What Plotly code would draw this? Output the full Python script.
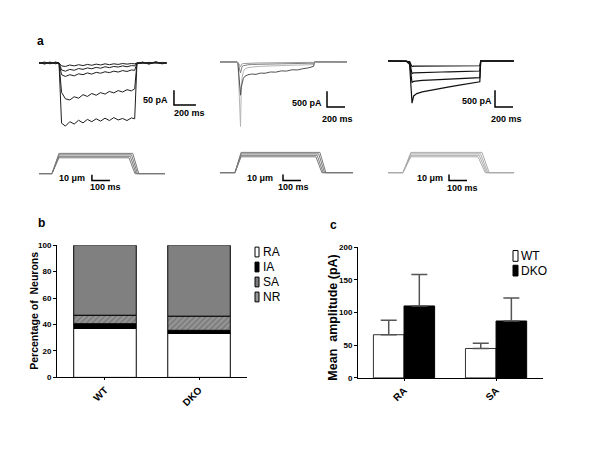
import plotly.graph_objects as go
import numpy as np

# ---------------- data ----------------
# panel b : percentage of neurons (stacked)
groups_b = ["WT", "DKO"]
ra_pct = [37.0, 33.2]
ia_pct = [3.6, 2.4]
sa_pct = [6.4, 10.7]
nr_pct = [53.0, 53.7]

# panel c : mean amplitude (pA)
types_c = ["RA", "SA"]
wt_amp = [66, 45]
dko_amp = [110, 87]
wt_err = [22, 8]
dko_err = [48, 35]

# panel a1 : RA-like currents (pA) vs time (ms)
a1_t = [0, 50, 100, 150, 182, 205, 240, 280, 320, 360, 400, 440, 480, 520, 560,
        600, 640, 680, 720, 760, 800, 840, 870, 890, 940, 1000, 1060, 1120, 1160]
a1_i = [
    [0, -2, 1, -1, 0, -10, -12, -7, -10, -6, -9, -5, -8, -4, -7, -3, -6, -3, -5, -2, -4, -2, -3, 0, 1, -1, 2, -2, 0],
    [-1, 2, -2, 3, 0, -24, -28, -22, -25, -19, -22, -17, -20, -15, -18, -13, -16, -12, -14, -10, -13, -9, -10, 0, -2, 2, -1, 2, -1],
    [1, -2, 2, -2, 0, -40, -46, -40, -44, -37, -40, -34, -38, -32, -35, -30, -33, -28, -31, -26, -29, -24, -25, -1, 2, -2, 1, -3, 0],
    [-2, 3, -3, 2, 0, -100, -122, -126, -115, -120, -108, -114, -104, -110, -101, -106, -97, -102, -94, -99, -91, -95, -88, -2, 2, -4, 3, -1, 0],
    [2, -4, 3, -3, 0, -205, -215, -200, -208, -195, -204, -192, -200, -190, -198, -188, -196, -186, -194, -189, -196, -187, -190, -4, 3, -3, 4, -2, 1],
]

# panel a2 : transient currents
a2_t = [0, 100, 190, 200, 228, 236, 245, 260, 280, 310, 350, 400, 450, 500, 560,
        620, 680, 740, 800, 860, 920, 980, 1040, 1050, 1150, 1300, 1410]
a2_i = [
    [0, 0, 0, -50, -2060, -900, -500, -300, -220, -180, -160, -150, -140, -130, -125, -120, -115, -110, -105, -100, -95, -90, -85, 0, 0, 0, 0],
    [0, 0, 0, -60, -1060, -800, -640, -520, -450, -410, -385, -395, -355, -360, -320, -325, -285, -290, -250, -255, -215, -190, -140, 0, 0, 0, 0],
    [0, 0, 0, -20, -350, -200, -150, -120, -100, -90, -80, -75, -70, -65, -60, -58, -55, -52, -50, -48, -45, -42, -40, 0, 0, 0, 0],
    [0, 0, 0, -10, -150, -80, -60, -50, -45, -40, -38, -35, -32, -30, -28, -27, -26, -25, -24, -23, -22, -21, -20, 0, 0, 0, 0],
]
a2_colors = ["#b4b4b4", "#505050", "#808080", "#9a9a9a"]

# panel a3 : intermediate currents
a3_t = [0, 100, 200, 240, 267, 285, 320, 380, 450, 520, 600, 680, 760, 840, 920,
        1000, 1020, 1030, 1150, 1300, 1400]
a3_i = [
    [0, 0, 0, -15, -170, -155, -152, -150, -150, -148, -148, -146, -146, -145, -145, -144, -144, 0, 0, 0, 0],
    [0, 0, 0, -30, -380, -355, -350, -345, -340, -335, -330, -325, -320, -315, -310, -305, -300, 0, 0, 0, 0],
    [0, 0, 0, -50, -650, -610, -595, -585, -575, -565, -555, -545, -535, -525, -515, -505, -500, 0, 0, 0, 0],
    [0, 0, 0, -100, -1265, -1050, -980, -930, -900, -860, -825, -780, -740, -700, -665, -630, -625, 0, 0, 0, 0],
]

# mechanical stimuli (displacement in um, time in ms)
stim_amp = [27, 29.5, 32, 34.5]
a1_stim = dict(on=72, rise=39, off=[500, 507, 514, 521], fall=33, end=700)
a2_stim = dict(on=83, rise=34, off=[533, 540, 548, 555], fall=33, end=739)
a3_stim = dict(on=83, rise=44, off=[500, 507, 514, 522], fall=40, end=700)

legend_b = ["RA", "IA", "SA", "NR"]
legend_c = ["WT", "DKO"]

# ---------------- helpers (layout geometry, page pixels) ----------------
OFF = 8            # default page margin of the html body
W, H = 600 - OFF, 450 - OFF

def xdom(p0, p1):
    return [(p0 - OFF) / W, (p1 - OFF) / W]

def ydom(top, bot):
    return [1 - (bot - OFF) / H, 1 - (top - OFF) / H]

def xrng(p0, p1, origin, ppu):
    return [(p0 - origin) / ppu, (p1 - origin) / ppu]

def yrng(top, bot, origin, ppu):
    return [(origin - bot) / ppu, (origin - top) / ppu]

def P(x, y):
    return (x - OFF) / W, 1 - (y - OFF) / H

fig = go.Figure()
FONT = "Liberation Sans, Arial, sans-serif"

# ---------------- panel a traces ----------------
for tr in a1_i:
    fig.add_trace(go.Scatter(x=a1_t, y=tr, mode="lines", line=dict(color="#1e1e1e", width=1),
                             xaxis="x", yaxis="y", showlegend=False, hoverinfo="skip"))
for tr, col in zip(a2_i, a2_colors):
    fig.add_trace(go.Scatter(x=a2_t, y=tr, mode="lines", line=dict(color=col, width=1),
                             xaxis="x2", yaxis="y2", showlegend=False, hoverinfo="skip"))
for tr in a3_i:
    fig.add_trace(go.Scatter(x=a3_t, y=tr, mode="lines", line=dict(color="#111111", width=1.2),
                             xaxis="x3", yaxis="y3", showlegend=False, hoverinfo="skip"))

def stim_traces(st, xa, ya, color):
    for amp, off in zip(stim_amp, st["off"]):
        xs = [0, st["on"], st["on"] + st["rise"], off, off + st["fall"], st["end"]]
        ys = [0, 0, amp, amp, 0, 0]
        fig.add_trace(go.Scatter(x=xs, y=ys, mode="lines", line=dict(color=color, width=1),
                                 xaxis=xa, yaxis=ya, showlegend=False, hoverinfo="skip"))

stim_traces(a1_stim, "x4", "y4", "#7a7a7a")
stim_traces(a2_stim, "x5", "y5", "#7a7a7a")
stim_traces(a3_stim, "x6", "y6", "#ababab")

# ---------------- panel b ----------------
base = np.cumsum([[0, 0], ra_pct, ia_pct, sa_pct], axis=0)
b_colors = ["white", "black", "#8c8c8c", "#808080"]
b_patterns = [None, None,
              dict(shape="/", fgcolor="#555555", bgcolor="#959595", size=4, solidity=0.35), None]
for k, (name, vals) in enumerate(zip(legend_b, [ra_pct, ia_pct, sa_pct, nr_pct])):
    marker = dict(color=b_colors[k], line=dict(color="black", width=1))
    if b_patterns[k]:
        marker["pattern"] = b_patterns[k]
    fig.add_trace(go.Bar(x=groups_b, y=vals, base=list(base[k]), name=name, marker=marker,
                         offsetgroup="b", xaxis="x7", yaxis="y7", showlegend=False, hoverinfo="skip"))

# ---------------- panel c ----------------
fig.add_trace(go.Bar(x=types_c, y=wt_amp, name="WT", offsetgroup="wt",
                     marker=dict(color="white", line=dict(color="#333333", width=1)),
                     error_y=dict(type="data", array=wt_err, arrayminus=[0, 0], symmetric=False,
                                  color="#555555", thickness=1.5, width=8),
                     xaxis="x8", yaxis="y8", showlegend=False, hoverinfo="skip"))
fig.add_trace(go.Bar(x=types_c, y=dko_amp, name="DKO", offsetgroup="dko",
                     marker=dict(color="black", line=dict(color="black", width=1)),
                     error_y=dict(type="data", array=dko_err, arrayminus=[0, 0], symmetric=False,
                                  color="#555555", thickness=1.5, width=8),
                     xaxis="x8", yaxis="y8", showlegend=False, hoverinfo="skip"))

# ---------------- axes ----------------
hid = dict(visible=False, showgrid=False, zeroline=False, fixedrange=True)
lay = dict(
    xaxis=dict(hid, domain=xdom(36, 205), range=xrng(36, 205, 39, 0.11), anchor="y"),
    yaxis=dict(hid, domain=ydom(50, 132), range=yrng(50, 132, 60, 0.3), anchor="x"),
    xaxis2=dict(hid, domain=xdom(215, 360), range=xrng(215, 360, 220, 0.09), anchor="y2"),
    yaxis2=dict(hid, domain=ydom(50, 132), range=yrng(50, 132, 59, 0.032), anchor="x2"),
    xaxis3=dict(hid, domain=xdom(383, 530), range=xrng(383, 530, 388, 0.09), anchor="y3"),
    yaxis3=dict(hid, domain=ydom(50, 132), range=yrng(50, 132, 58, 0.034), anchor="x3"),
    xaxis4=dict(hid, domain=xdom(35, 180), range=xrng(35, 180, 39, 0.18), anchor="y4"),
    yaxis4=dict(hid, domain=ydom(140, 185), range=yrng(140, 185, 173, 0.6), anchor="x4"),
    xaxis5=dict(hid, domain=xdom(215, 360), range=xrng(215, 360, 220, 0.18), anchor="y5"),
    yaxis5=dict(hid, domain=ydom(140, 185), range=yrng(140, 185, 172, 0.6), anchor="x5"),
    xaxis6=dict(hid, domain=xdom(383, 530), range=xrng(383, 530, 388, 0.18), anchor="y6"),
    yaxis6=dict(hid, domain=ydom(140, 185), range=yrng(140, 185, 172, 0.6), anchor="x6"),
)
tickf = dict(family=FONT, size=8, color="black", weight="bold")
xtickf = dict(family=FONT, size=10, color="black", weight="bold")
lay["xaxis7"] = dict(domain=xdom(57, 247), range=[-0.51, 1.51], anchor="y7", showline=True,
                     linecolor="black", linewidth=1, ticks="outside", ticklen=2, tickcolor="black",
                     tickangle=-45, tickfont=xtickf, showgrid=False, zeroline=False, fixedrange=True)
lay["yaxis7"] = dict(domain=ydom(246, 381), range=[0, 100], dtick=20, anchor="x7", showline=True,
                     linecolor="black", linewidth=1, ticks="outside", ticklen=3, tickcolor="black",
                     tickfont=tickf, showgrid=False, zeroline=False, fixedrange=True)
lay["xaxis8"] = dict(domain=xdom(358, 543), range=[-0.5, 1.51], anchor="y8", showline=True,
                     linecolor="black", linewidth=1, ticks="outside", ticklen=2, tickcolor="black",
                     tickangle=-45, tickfont=xtickf, showgrid=False, zeroline=False, fixedrange=True)
lay["yaxis8"] = dict(domain=ydom(248, 381.5), range=[0, 200], dtick=50, anchor="x8", showline=True,
                     linecolor="black", linewidth=1, ticks="outside", ticklen=3, tickcolor="black",
                     tickfont=tickf, showgrid=False, zeroline=False, fixedrange=True)

# ---------------- scale bars (data units) ----------------
scalebars = [  # xaxis, yaxis, t0, y0, dt, dy
    ("x", "y", 1227, -143, 200, 50),
    ("x2", "y2", 1189, -1437, 200, 500),
    ("x3", "y3", 1189, -1382, 200, 500),
    ("x4", "y4", 294, -11.7, 100, 10),
    ("x5", "y5", 350, -13.3, 100, 10),
    ("x6", "y6", 339, -13.3, 100, 10),
]
shapes = []
for xa, ya, t0, y0, dt, dy in scalebars:
    shapes.append(dict(type="path", xref=xa, yref=ya,
                       path=f"M {t0},{y0 + dy} L {t0},{y0} L {t0 + dt},{y0}",
                       line=dict(color="black", width=1.5)))

# ---------------- text ----------------
ann = []
def txt(s, x, y, size=9, bold=True, angle=0, xanchor="center"):
    px, py = P(x, y)
    ann.append(dict(text=f"<b>{s}</b>" if bold else s, x=px, y=py, xref="paper", yref="paper",
                    showarrow=False, xanchor=xanchor, yanchor="middle", textangle=angle,
                    font=dict(family=FONT, size=size, color="black")))

def legend_box(x0, x1, y0, y1, color):
    a, b = P(x0, y1)
    c, d = P(x1, y0)
    shapes.append(dict(type="rect", xref="paper", yref="paper", x0=a, x1=c, y0=b, y1=d,
                       fillcolor=color, line=dict(color="black", width=1)))

txt("a", 40, 38, size=12)
txt("b", 41, 223, size=12)
txt("c", 333, 225, size=12)
txt("50 pA", 155.5, 98)
txt("200 ms", 189, 111.5)
txt("10 μm", 71.5, 177)
txt("100 ms", 105, 187)
txt("500 pA", 307, 100.5)
txt("200 ms", 337, 117)
txt("10 μm", 260, 177)
txt("100 ms", 293, 187)
txt("500 pA", 477, 99)
txt("200 ms", 506, 117)
txt("10 μm", 430, 177)
txt("100 ms", 462, 188)
txt("Percentage of  Neurons", 34, 313, size=10.5, angle=-90)
txt("Mean  amplitude (pA)", 333, 320, size=12.5, angle=-90)

# legends
leg_b_fill = ["white", "black", "#7d7d7d", "#969696"]
for k, name in enumerate(legend_b):
    yc = 253 + 15.3 * k
    legend_box(255, 259, yc - 5, yc + 5, leg_b_fill[k])
    txt(name, 261, yc, size=12, bold=False, xanchor="left")
leg_c_fill = ["white", "black"]
for k, name in enumerate(legend_c):
    yc = 257 + 15 * k
    legend_box(513, 518, yc - 5.5, yc + 5.5, leg_c_fill[k])
    txt(name, 519, yc, size=12, bold=False, xanchor="left")

fig.update_layout(
    width=W, height=H, margin=dict(l=0, r=0, t=0, b=0),
    paper_bgcolor="white", plot_bgcolor="white",
    font=dict(family=FONT, size=11, color="black"),
    barmode="group", bargap=0.335, bargroupgap=0,
    shapes=shapes, annotations=ann, showlegend=False,
    **lay,
)

fig.write_html("out.html", config=dict(displayModeBar=False, staticPlot=True))
